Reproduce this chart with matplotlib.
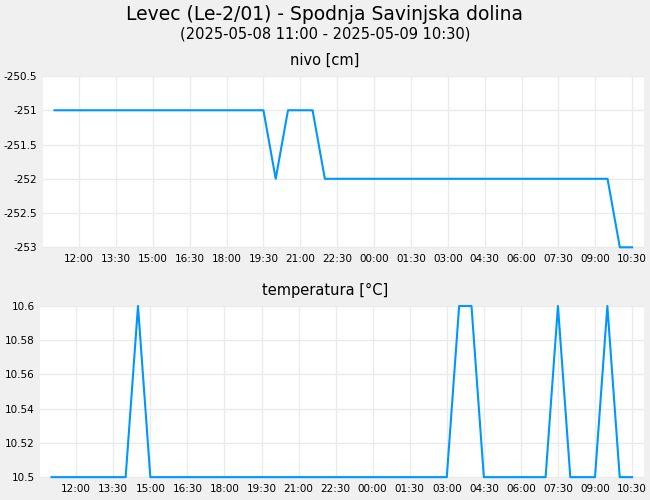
import numpy as np
import pandas as pd
import matplotlib
matplotlib.use('Agg')
import matplotlib.pyplot as plt
import matplotlib.dates as mdates

# measurements every 30 min, 2025-05-08 11:00 .. 2025-05-09 10:30
times = pd.date_range('2025-05-08 11:00', '2025-05-09 10:30', freq='30min')

nivo = [-251] * 18 + [-252, -251, -251, -251] + [-252] * 24 + [-253, -253]

temperatura = [10.5] * 48
for i in [7, 33, 34, 41, 45]:
    temperatura[i] = 10.6

title = 'Levec (Le-2/01) - Spodnja Savinjska dolina'
subtitle = '(2025-05-08 11:00 - 2025-05-09 10:30)'

line_color = '#0096ff'
grid_color = '#ebebeb'

fig = plt.figure(figsize=(6.5, 5), dpi=100, facecolor='#f0f0f0')
fig.text(0.5, 1 - 14 / 500, title, ha='center', va='center', fontsize=13.5)
fig.text(0.5, 1 - 34 / 500, subtitle, ha='center', va='center', fontsize=10.5)

x0 = pd.Timestamp('2025-05-08 10:32')
x1 = pd.Timestamp('2025-05-09 10:59')


def style(ax, ylim, yticks, ylabels, name, name_y):
    ax.set_facecolor('white')
    for s in ax.spines.values():
        s.set_visible(False)
    ax.set_xlim(x0, x1)
    ax.set_ylim(*ylim)
    ax.set_yticks(yticks)
    ax.set_yticklabels(ylabels)
    ticks = pd.date_range('2025-05-08 12:00', '2025-05-09 10:30', freq='90min')
    ax.set_xticks(ticks)
    ax.xaxis.set_major_formatter(mdates.DateFormatter('%H:%M'))
    ax.tick_params(length=0, labelsize=7.5, pad=4)
    ax.grid(True, color=grid_color, lw=1)
    ax.set_axisbelow(True)
    fig.text(0.5, 1 - name_y / 500, name, ha='center', va='center', fontsize=10.5)


ax1 = fig.add_axes([43 / 650, 1 - 248 / 500, 601 / 650, 172 / 500])
ax1.plot(times, nivo, color=line_color, lw=1.5, clip_on=False)
style(ax1, (-253.01, -250.5), np.arange(-253, -250.4, 0.5),
      ['-253', '-252.5', '-252', '-251.5', '-251', '-250.5'], 'nivo [cm]', 60)

ax2 = fig.add_axes([40 / 650, 1 - 478 / 500, 604 / 650, 172 / 500])
ax2.plot(times, temperatura, color=line_color, lw=1.5, clip_on=False)
style(ax2, (10.4995, 10.6), [10.5, 10.52, 10.54, 10.56, 10.58, 10.6],
      ['10.5', '10.52', '10.54', '10.56', '10.58', '10.6'], 'temperatura [°C]', 290)

fig.savefig('out.png', dpi=100, facecolor=fig.get_facecolor())
